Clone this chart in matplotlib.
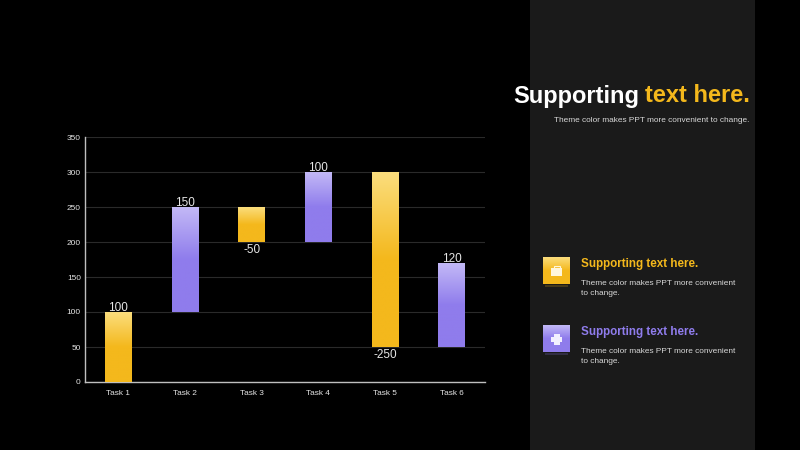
import numpy as np
import matplotlib.pyplot as plt
from matplotlib.colors import LinearSegmentedColormap
from matplotlib.patches import Rectangle

plt.rcParams['font.family'] = ['Liberation Sans', 'DejaVu Sans']

# Chart data
tasks = ['Task 1', 'Task 2', 'Task 3', 'Task 4', 'Task 5', 'Task 6']
starts = [0, 100, 200, 200, 50, 50]
ends = [100, 250, 250, 300, 300, 170]
changes = [100, 150, -50, 100, -250, 120]
yticks = [0, 50, 100, 150, 200, 250, 300, 350]

title_white = 'Supporting'
title_gold = 'text here.'
subtitle = 'Theme color makes PPT more convenient to change.'
item_title = 'Supporting text here.'
item_text = 'Theme color makes PPT more convenient\nto change.'

GOLD = '#F4B81C'
PURPLE = '#8F7CEC'
gold_map = LinearSegmentedColormap.from_list('gold', ['#FBDD7C', '#F4B81C', '#F4B81C'])
purple_map = LinearSegmentedColormap.from_list('purple', ['#C2B8F6', '#8F7CEC', '#8F7CEC'])
grad = np.linspace(0, 1, 100).reshape(-1, 1)

fig = plt.figure(figsize=(8, 4.5), dpi=100, facecolor='black')

# Background layer in pixel coordinates
bg = fig.add_axes([0, 0, 1, 1])
bg.set_xlim(0, 800)
bg.set_ylim(450, 0)
bg.axis('off')
bg.add_patch(Rectangle((530, 0), 225, 450, color='#1A1A1A', lw=0))

# Waterfall chart
ax = fig.add_axes([85 / 800, (450 - 382) / 450, 400 / 800, 245 / 450])
ax.set_facecolor('none')
ax.set_xlim(-0.5, 5.5)
ax.set_ylim(0, 350)
bar_w = 0.4

for i, task in enumerate(tasks):
    cmap = gold_map if changes[i] == 100 and i == 0 or changes[i] < 0 else purple_map
    ax.imshow(grad, cmap=cmap, aspect='auto', zorder=3,
              extent=(i - bar_w / 2, i + bar_w / 2, starts[i], ends[i]))
    if changes[i] < 0:
        ax.text(i, starts[i] - 3, str(changes[i]), ha='center', va='top',
                color='#E6E6E6', fontsize=8.5, zorder=4)
    else:
        ax.text(i, ends[i] - 3.5, str(changes[i]), ha='center', va='bottom',
                color='#E6E6E6', fontsize=8.5, zorder=4)

ax.set_xlim(-0.5, 5.5)
ax.set_ylim(0, 350)
ax.set_xticks(range(len(tasks)))
ax.set_xticklabels(tasks)
ax.set_yticks(yticks)
ax.tick_params(axis='x', length=0, colors='#E6E6E6', labelsize=5.95, pad=6)
ax.tick_params(axis='y', length=0, colors='#E6E6E6', labelsize=5.95, pad=3)
ax.grid(axis='y', color='#2A2A2A', lw=0.8, zorder=0)
ax.set_axisbelow(True)
for side in ['top', 'right']:
    ax.spines[side].set_visible(False)
for side in ['left', 'bottom']:
    ax.spines[side].set_color('#BFBFBF')
    ax.spines[side].set_linewidth(1.0)

# Right panel heading
bg.text(750, 96, title_gold, ha='right', va='center', color=GOLD, fontsize=17, fontweight='bold')
bg.text(639, 96, title_white, ha='right', va='center', color='white', fontsize=17, fontweight='bold')
bg.text(749, 120.5, subtitle, ha='right', va='center', color='#D8D8D8', fontsize=5.95)

# Icon blocks
def icon_block(top, cmap, color):
    bg.imshow(grad, cmap=cmap, aspect='auto', extent=(543, 570, top + 27, top), zorder=2)
    bg.add_patch(Rectangle((545, top + 27), 23, 2, color=color, alpha=0.2, lw=0, zorder=1))
    bg.text(581, top + 6.5, item_title, ha='left', va='center', color=color,
            fontsize=8.4, fontweight='bold', zorder=3)
    bg.text(581, top + 31, item_text, ha='left', va='center', color='#D8D8D8',
            fontsize=5.95, linespacing=1.6, zorder=3)

icon_block(257.5, gold_map, GOLD)
icon_block(325.5, purple_map, PURPLE)

# Small white glyphs inside the icons
bg.add_patch(Rectangle((551, 268), 11, 8, color='#FFF6DC', lw=0, zorder=4))
bg.add_patch(Rectangle((553.5, 266), 6, 2, fill=False, ec='#FFF6DC', lw=0.8, zorder=4))
bg.add_patch(Rectangle((553.5, 334), 6, 11, color='#F2EFFF', lw=0, zorder=4))
bg.add_patch(Rectangle((551, 337), 11, 5, color='#F2EFFF', lw=0, zorder=4))

bg.set_xlim(0, 800)
bg.set_ylim(450, 0)

fig.savefig('out.png', dpi=100, facecolor='black')
